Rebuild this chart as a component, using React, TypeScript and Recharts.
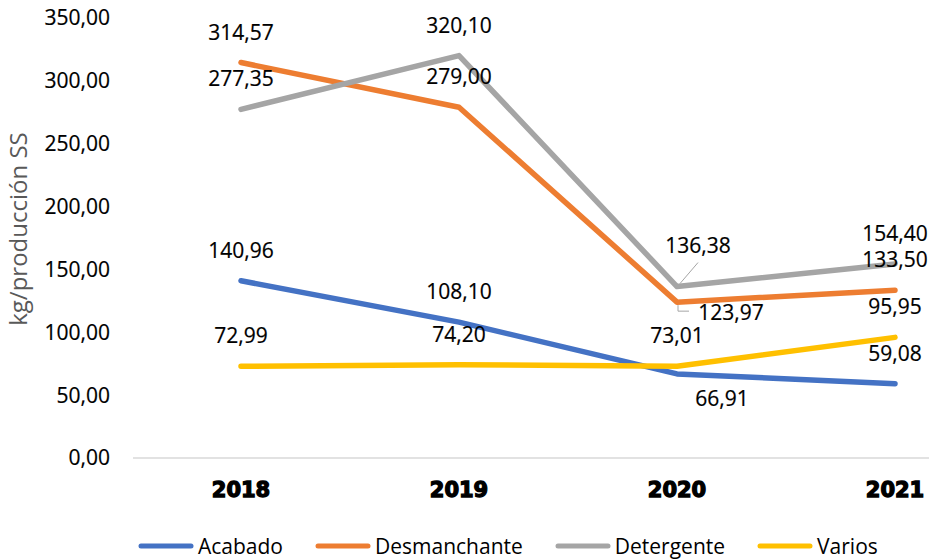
import React from 'react';
import { LineChart, Line, XAxis, YAxis, Legend, LabelList, Label } from 'recharts';

const years = ['2018', '2019', '2020', '2021'];
const acabado = [140.96, 108.1, 66.91, 59.08];
const desmanchante = [314.57, 279.0, 123.97, 133.5];
const detergente = [277.35, 320.1, 136.38, 154.4];
const varios = [72.99, 74.2, 73.01, 95.95];
const yTicks = [0, 50, 100, 150, 200, 250, 300, 350];

const series = [
  { key: 'Acabado', values: acabado, color: '#4472C4' },
  { key: 'Desmanchante', values: desmanchante, color: '#ED7D31' },
  { key: 'Detergente', values: detergente, color: '#A5A5A5' },
  { key: 'Varios', values: varios, color: '#FFC000' },
];

const data = years.map((year, i) => {
  const row: Record<string, string | number> = { year };
  series.forEach((s) => {
    row[s.key] = s.values[i];
  });
  return row;
});

const FONT = '"Open Sans", sans-serif';
const fmt = (v: number) => v.toFixed(2).replace('.', ',');

// label nudges for the few labels Excel moved off the default "above" spot
const labelNudge: Record<string, Record<number, [number, number]>> = {
  Acabado: { 2: [45, 24] },
  Desmanchante: { 2: [54, 10] },
  Detergente: { 2: [21, -42] },
};

const makeLabel = (key: string) => (props: any) => {
  const { x, y, value, index } = props;
  const nudge = labelNudge[key]?.[index];
  const dx = nudge ? nudge[0] : 0;
  const dy = nudge ? nudge[1] : -31;
  let leader = null;
  if (key === 'Detergente' && nudge) {
    leader = <line x1={x + 3} y1={y - 3} x2={x + 21} y2={y - 24} stroke="#A5A5A5" strokeWidth={1} />;
  }
  if (key === 'Desmanchante' && nudge) {
    leader = (
      <polyline
        points={`${x + 1},${y + 3} ${x + 1},${y + 9} ${x + 12},${y + 9}`}
        fill="none"
        stroke="#A5A5A5"
        strokeWidth={1}
      />
    );
  }
  return (
    <g>
      {leader}
      <text
        x={x + dx}
        y={y + dy}
        textAnchor="middle"
        dominantBaseline="central"
        fontFamily={FONT}
        fontSize={21}
        fill="#000"
        stroke="#000"
        strokeWidth={0.2}
      >
        {fmt(Number(value))}
      </text>
    </g>
  );
};

const YTitle = (props: any) => {
  const { viewBox } = props;
  const cx = viewBox.x + 17;
  const cy = viewBox.y + viewBox.height / 2 - 9;
  return (
    <text
      x={cx}
      y={cy}
      transform={`rotate(-90, ${cx}, ${cy})`}
      textAnchor="middle"
      dominantBaseline="central"
      fontFamily={FONT}
      fontSize={24}
      fill="#595959"
    >
      kg/producción SS
    </text>
  );
};

const LegendContent = () => (
  <div
    style={{
      display: 'flex',
      alignItems: 'center',
      paddingLeft: 138,
      height: 28,
      fontFamily: FONT,
      fontSize: 21,
      color: '#000',
    }}
  >
    {series.map((s) => (
      <div key={s.key} style={{ display: 'flex', alignItems: 'center', marginRight: 32 }}>
        <svg width={56} height={8} style={{ marginRight: 4 }}>
          <line x1={3} y1={4} x2={53} y2={4} stroke={s.color} strokeWidth={5} strokeLinecap="round" />
        </svg>
        <span>{s.key}</span>
      </div>
    ))}
  </div>
);

export default function App() {
  return (
    <div style={{ position: 'absolute', left: 0, top: 0, background: '#fff' }}>
      <LineChart width={929} height={560} data={data} margin={{ top: 18, right: 0, bottom: 0, left: 0 }}>
        <XAxis
          dataKey="year"
          padding={{ left: 108, right: 34 }}
          axisLine={{ stroke: '#D9D9D9', strokeWidth: 1.5 }}
          tickLine={false}
          tickSize={0}
          tickMargin={24}
          height={74}
          tick={{
            fontFamily: '"DejaVu Sans", sans-serif',
            fontWeight: 'bold',
            fontSize: 21,
            fill: '#000',
            stroke: '#000',
            strokeWidth: 1.3,
          }}
        />
        <YAxis
          width={133}
          domain={[0, 350]}
          ticks={yTicks}
          axisLine={false}
          tickLine={false}
          tickSize={0}
          tickMargin={23}
          tickFormatter={(v: number) => fmt(v)}
          tick={{ fontFamily: FONT, fontSize: 21, fill: '#000', stroke: '#000', strokeWidth: 0.2 }}
        >
          <Label content={YTitle} />
        </YAxis>
        <Legend verticalAlign="bottom" height={28} content={LegendContent} wrapperStyle={{ bottom: 0, left: 0, width: 929 }} />
        {series.map((s) => (
          <Line
            key={s.key}
            type="linear"
            dataKey={s.key}
            stroke={s.color}
            strokeWidth={5.5}
            strokeLinecap="round"
            strokeLinejoin="round"
            dot={false}
            activeDot={false}
            isAnimationActive={false}
          >
            <LabelList dataKey={s.key} content={makeLabel(s.key)} />
          </Line>
        ))}
      </LineChart>
    </div>
  );
}
